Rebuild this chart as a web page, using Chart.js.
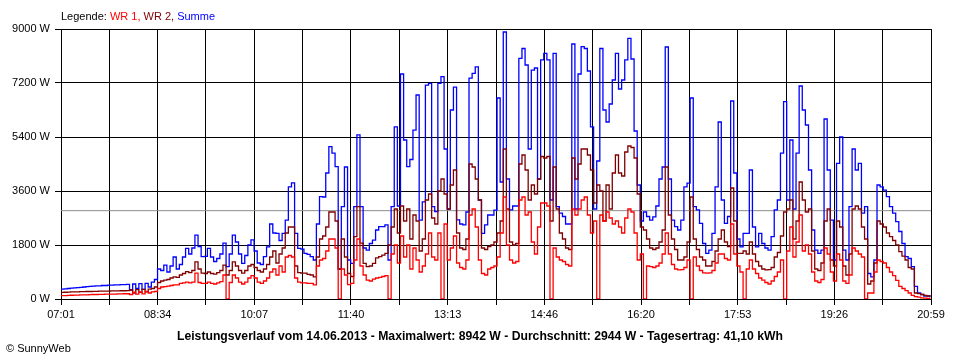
<!DOCTYPE html>
<html>
<head>
<meta charset="utf-8">
<title>Leistungsverlauf 14.06.2013</title>
<script src="https://cdn.jsdelivr.net/npm/chart.js@4.4.1/dist/chart.umd.min.js"></script>
<style>
    html, body { margin: 0; padding: 0; background: #fff; }
    #wrap { width: 960px; height: 360px; position: relative; }
</style>
</head>
<body>
<div id="wrap"><canvas id="powerChart" width="960" height="360"></canvas></div>
<script>
// Sampling grid: one value every 3 minutes, starting 07:01
const startMinute = 421;   // 07:01
const endMinute = 1259;    // 20:59
const stepMinutes = 3;

// x axis labels, one per grid line (every second line is unlabeled)
const tickLabels = ['07:01', '', '08:34', '', '10:07', '', '11:40', '', '13:13', '',
    '14:46', '', '16:20', '', '17:53', '', '19:26', '', '20:59'];

const yTicks = [0, 1800, 3600, 5400, 7200, 9000];
const avgValue = 2944;

// WR 1 (W)
const wr1Values = [
    110, 115, 120, 125, 130, 130, 135, 140, 140, 145,
    150, 150, 155, 155, 160, 160, 165, 165, 170, 170,
    175, 175, 150, 230, 160, 240, 170, 250, 200, 240,
    250,
    350, 400, 410, 430, 450, 470, 470, 520, 540, 560,
    540, 560, 860, 550, 520, 520, 560, 520, 500, 540,
    580, 800, 0, 550, 800, 700, 560, 500, 560, 700, 780,
    700, 560, 520, 600, 700, 900, 1000, 800, 1100,
    900, 1400, 1450, 1400, 700, 560, 540, 540, 520, 520,
    470, 1100, 1300, 1350, 1600, 2000, 2000, 1700, 0, 1000, 800, 480,
    520, 1300, 2000, 1100, 800, 630, 600, 660, 700, 720, 750, 780,
    0, 1500, 1800, 1200, 2100, 1400, 1800, 1000, 1700, 1300, 900, 1100, 1500, 2200, 1400, 1300, 2200, 0, 2500,
    1300, 1700, 2100, 1200, 1050, 1000, 1300, 2800, 3000, 2400, 1300, 850, 800, 1000, 1050, 1100, 1400,
    2200, 3400, 1800, 1300, 1200, 1250, 3300, 3400, 2800, 2900, 1900, 1500, 2400, 3200,
    3200, 3100, 0, 1700, 1400, 1300, 1250, 1150, 1100, 3000, 2800, 3000, 3300, 3400, 2800, 2200,
    2600, 0, 2800, 2600, 2900, 2700, 2500, 2600, 2400, 2200, 2700, 3000, 2900, 2200, 1300,
    1500, 0, 1100, 1080, 1050, 1100, 1200, 1500, 2200, 1500, 1150, 1000, 970, 980, 1050, 1300,
    0, 1400, 1100, 950, 870, 860, 870, 950, 1200, 1500,
    1500, 1350, 1300, 2500, 1500,
    1100, 900, 0, 1000, 1300, 1000, 850, 700, 630, 550, 500, 600, 750, 900, 1300, 0,
    1600, 2400, 1400, 1900, 2800, 1600, 1800, 1500, 900, 600, 550, 650, 1700, 1500, 900,
    600, 1500, 1300, 600, 520, 800, 1700, 1600, 1500, 1400, 0, 200, 200, 900, 1300, 1250,
    1200, 1050, 900, 780, 620, 420, 350, 280, 200, 120, 80, 60, 40, 30, 20, 10
];

// WR 2 (W)
const wr2Values = [
    220, 225, 230, 235, 240, 240, 245, 245, 250, 250,
    255, 255, 260, 260, 265, 265, 270, 270, 270, 275,
    275, 280, 300, 200, 310, 220, 320, 240, 330, 350,
    400,
    550, 600, 630, 650, 700, 740, 720, 800, 850, 910,
    880, 950, 1240, 1000, 860, 850, 900, 850, 830, 880,
    950, 1130, 800, 950, 1240, 1100, 950, 860, 950, 1100, 1150,
    1050, 950, 900, 1000, 1150, 1400, 1600, 1200, 1500,
    1700, 2200, 2400, 2400, 1100, 880, 860, 860, 820, 800,
    740, 1400, 2000, 2100, 2400, 2900, 2900, 2600, 1000, 2000, 1400, 850,
    750, 2080, 3080, 1860, 1190, 1080, 1100, 1190, 1370, 1410, 1460, 1520,
    1800, 2400, 3000, 2200, 3100, 2600, 3000, 2000, 2800, 2600, 1600, 2000, 3300, 3500, 2700, 2500, 3600, 4000, 3500,
    3000, 3800, 4300, 2200, 1700, 1650, 2000, 4500, 4400, 4000, 3300, 1700, 1650, 1750, 1800, 1900, 2200,
    2600, 5000, 3000, 1900, 1800, 1850, 4500, 4800, 4300, 3300, 3800, 3500, 4000, 4750,
    4700, 4750, 2600, 4400, 3000, 2200, 2000, 1700, 1650, 4700, 4000, 4500, 5000, 5000, 4800, 4300,
    3200, 3800, 3600, 2600, 3800, 3000, 4200, 4800, 4200, 4100, 4900, 5100, 5050, 4700, 3500,
    2400, 2300, 2000, 1700, 1650, 1700, 1900, 2300, 4400, 2800, 2000, 1650, 1300, 1300, 1400, 1900,
    3400, 2000, 1650, 1400, 1300, 1100, 1100, 1250, 1600, 2000,
    2300, 1900, 1750, 3700, 2600,
    1520, 1520, 1600, 1500, 1900, 1500, 1250, 1100, 1000, 970, 980, 1050, 1400, 1550, 2100, 2900,
    3000, 3300, 2000, 2600, 3900, 3300, 2900, 3000, 1600, 1000, 950, 1200, 2600, 3000, 1300,
    1100, 2600, 2400, 1100, 800, 1500, 3000, 3100, 3000, 2400, 2000, 500, 600, 1200, 2600, 2500,
    2400, 2200, 2080, 1950, 1800, 1580, 1430, 1300, 1050, 1000, 200, 180, 150, 120, 100, 80
];

// Summe (W)
const sumValues = [
    330, 340, 350, 360, 370, 380, 390, 400, 410, 420,
    430, 440, 440, 450, 450, 460, 460, 470, 470, 480,
    480, 490, 300, 500, 350, 510, 320, 520, 400, 560,
    650,
    1000, 950, 1130, 900, 1100, 1400, 1000, 1150, 1400, 1690,
    1500, 1700, 2130, 1750, 1410, 1420, 1690, 1400, 1250, 1350,
    1500, 1860, 1080, 1500, 2130, 1900, 1500, 1190, 1450, 1800, 1970,
    1600, 1200, 1150, 1410, 1740, 2500, 2200, 2190, 1950, 2190,
    2630, 3740, 3870, 2190, 1690, 1660, 1520, 1490, 1410, 1300,
    2500, 3410, 3400, 4200, 5080, 4860, 4410, 1000, 3080, 4400, 1300,
    1190, 3080, 5470, 3080, 1700, 1630, 1850, 1960, 2300, 2410,
    2410, 2470, 1300, 3080, 5740, 3100, 7500, 5300, 4410, 4650,
    5630, 6800, 2630, 3240, 7130, 7190, 3080, 2910, 7190, 7410, 5000,
    3000, 6300, 7060, 2640, 2500, 2470, 2900, 7360, 7520, 7740,
    3300, 2190, 2470, 2800, 2800, 2960, 6700, 3900, 8900, 4000,
    2970, 3100, 3100, 8020, 8350, 7800, 5000, 7630, 7700, 4000, 7970,
    8190, 7970, 3300, 8190, 3080, 2860, 2750, 2500, 2500, 8500,
    3000, 7500, 8410, 8350, 7600, 5740, 3000, 4600, 8350, 6300,
    5900, 6500, 7300, 8190, 7000, 7300, 7970, 8690, 8000, 5600, 3800,
    2600, 2900, 2750, 2630, 2740, 3100, 4000, 4400, 8400, 4000,
    2630, 2410, 2300, 2630, 3740, 3860, 6700, 3080, 2970, 2520,
    1850, 1520, 1630, 2190, 3740, 5900, 3300, 2520, 2750, 6600, 4200,
    2000, 1740, 2190, 2190, 4300, 2400, 1740, 2190, 1850, 1700,
    1630, 2080, 2970, 3300, 4860, 6580, 3300, 5300, 3000, 4860,
    7100, 6300, 5800, 4300, 2300, 1630, 1520, 1630, 6000, 4300, 2630,
    1300, 4520, 5400, 1630, 1300, 3080, 5000, 4300, 4520, 2860,
    3080, 850, 740, 1300, 3800, 3740, 3630, 3410, 3080, 2860,
    2580, 2250, 1850, 1410, 1350, 1080, 420, 200, 150, 100, 100, 60
];

const FONT = '"Liberation Sans", Arial, sans-serif';

function toPoints(values) {
    return values.map((v, i) => ({ x: startMinute + i * stepMinutes, y: v }));
}

// Texts around the plot: legend line, summary line, copyright
const textPlugin = {
    id: 'sunnyTexts',
    afterDraw(chart) {
        const ctx = chart.ctx;
        const left = chart.chartArea.left;
        ctx.save();
        ctx.textBaseline = 'middle';

        // Legend
        ctx.font = '11px ' + FONT;
        const parts = [
            ['Legende: ', '#000000'],
            ['WR 1, ', '#ff0000'],
            ['WR 2, ', '#800000'],
            ['Summe', '#0000ff']
        ];
        let x = left;
        parts.forEach(p => {
            ctx.fillStyle = p[1];
            ctx.textAlign = 'left';
            ctx.fillText(p[0], x, 17);
            x += ctx.measureText(p[0]).width;
        });

        // Summary line
        const summary = 'Leistungsverlauf vom 14.06.2013 - Maximalwert: 8942 W - Durchschnitt: 2944 W - Tagesertrag: 41,10 kWh';
        ctx.font = 'bold 12px ' + FONT;
        const w = ctx.measureText(summary).width;
        const size = Math.min(13, 12 * 606 / w);
        ctx.font = 'bold ' + size.toFixed(2) + 'px ' + FONT;
        ctx.fillStyle = '#000000';
        ctx.textAlign = 'center';
        ctx.fillText(summary, 480, 337);

        // Copyright
        ctx.font = '11px ' + FONT;
        ctx.textAlign = 'left';
        ctx.fillText('\u00A9 SunnyWeb', 6, 349);
        ctx.restore();
    }
};

document.addEventListener('DOMContentLoaded', function() {
    const ctx = document.getElementById('powerChart').getContext('2d');

    new Chart(ctx, {
        type: 'line',
        data: {
            datasets: [
                {
                    label: 'WR 1',
                    data: toPoints(wr1Values),
                    borderColor: '#ff0000',
                    borderWidth: 1.3,
                    stepped: true
                },
                {
                    label: 'WR 2',
                    data: toPoints(wr2Values),
                    borderColor: '#800000',
                    borderWidth: 1.3,
                    stepped: true
                },
                {
                    label: 'Summe',
                    data: toPoints(sumValues),
                    borderColor: '#0000ff',
                    borderWidth: 1.3,
                    stepped: true
                },
                {
                    label: 'Durchschnitt',
                    data: [{ x: startMinute, y: avgValue }, { x: endMinute, y: avgValue }],
                    borderColor: '#8c8c8c',
                    borderWidth: 1
                }
            ]
        },
        options: {
            responsive: false,
            animation: false,
            events: [],
            elements: {
                point: { radius: 0 },
                line: { tension: 0, borderJoinStyle: 'miter' }
            },
            layout: { padding: { left: 0, right: 29, top: 29, bottom: 0 } },
            plugins: {
                legend: { display: false },
                tooltip: { enabled: false }
            },
            scales: {
                x: {
                    type: 'linear',
                    min: startMinute,
                    max: endMinute,
                    afterBuildTicks(scale) {
                        const n = tickLabels.length - 1;
                        scale.ticks = tickLabels.map((_, k) => ({
                            value: startMinute + k * (endMinute - startMinute) / n
                        }));
                    },
                    afterFit(scale) { scale.height = 61; },
                    ticks: {
                        autoSkip: false,
                        maxRotation: 0,
                        padding: 3,
                        color: '#000000',
                        font: { family: FONT, size: 11 },
                        callback: (value, index) => tickLabels[index]
                    },
                    grid: { color: '#000000', lineWidth: 1, tickLength: 6, tickColor: '#000000' },
                    border: { color: '#000000', width: 1 }
                },
                y: {
                    min: 0,
                    max: 9000,
                    afterBuildTicks(scale) {
                        scale.ticks = yTicks.map(v => ({ value: v }));
                    },
                    afterFit(scale) { scale.width = 61; },
                    ticks: {
                        padding: 5,
                        color: '#000000',
                        font: { family: FONT, size: 11 },
                        callback: value => value + ' W'
                    },
                    grid: { color: '#000000', lineWidth: 1, tickLength: 6, tickColor: '#000000' },
                    border: { color: '#000000', width: 1 }
                }
            }
        },
        plugins: [textPlugin]
    });
});
</script>
</body>
</html>
